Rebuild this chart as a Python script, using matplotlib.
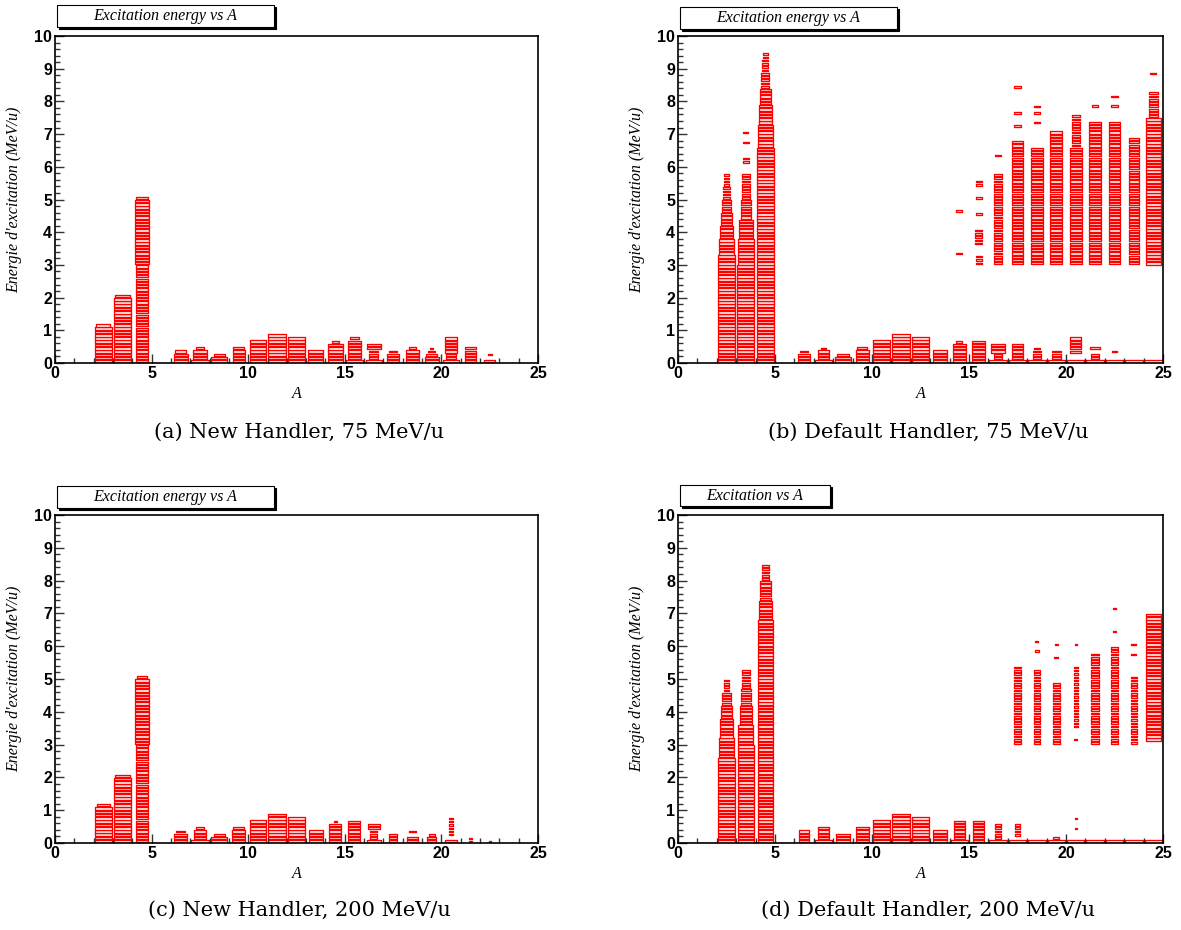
import matplotlib
matplotlib.use("Agg")
import matplotlib.pyplot as plt
from matplotlib.patches import Rectangle
from matplotlib.collections import PatchCollection
from matplotlib.ticker import MultipleLocator
from matplotlib.font_manager import FontProperties

# Boxes of the 2D histograms: (A bin, E low, E high, relative box size)
# every 0.1 MeV/u bin between E low and E high gets one box
a_boxes = [
    (2, 0.0, 1.1, 0.88), (2, 1.1, 1.2, 0.72),
    (3, 0.0, 2.0, 0.86), (3, 2.0, 2.1, 0.78),
    (4, 0.0, 3.0, 0.6), (4, 3.0, 5.0, 0.75), (4, 5.0, 5.1, 0.6),
    (6, 0.0, 0.3, 0.72), (6, 0.3, 0.4, 0.6),
    (7, 0.0, 0.1, 0.95), (7, 0.1, 0.4, 0.7), (7, 0.4, 0.5, 0.45),
    (8, 0.0, 0.2, 0.8), (8, 0.2, 0.3, 0.55),
    (9, 0.0, 0.4, 0.62), (9, 0.4, 0.5, 0.55),
    (10, 0.0, 0.7, 0.85),
    (11, 0.0, 0.9, 0.92),
    (12, 0.0, 0.8, 0.9),
    (13, 0.0, 0.4, 0.78),
    (14, 0.0, 0.6, 0.78), (14, 0.6, 0.7, 0.35),
    (15, 0.0, 0.1, 0.85), (15, 0.1, 0.7, 0.7), (15, 0.7, 0.8, 0.5),
    (16, 0.0, 0.1, 0.85), (16, 0.1, 0.4, 0.45), (16, 0.4, 0.6, 0.75),
    (17, 0.0, 0.3, 0.6), (17, 0.3, 0.4, 0.4),
    (18, 0.0, 0.4, 0.65), (18, 0.4, 0.5, 0.35),
    (19, 0.0, 0.2, 0.7), (19, 0.2, 0.3, 0.55), (19, 0.3, 0.4, 0.35), (19, 0.4, 0.5, 0.15),
    (20, 0.0, 0.1, 0.8), (20, 0.1, 0.3, 0.5), (20, 0.3, 0.8, 0.62),
    (21, 0.0, 0.5, 0.55),
    (22, 0.0, 0.1, 0.55), (22, 0.2, 0.3, 0.2),
]

b_boxes = [
    (2, 0.0, 2.8, 0.9), (2, 2.8, 3.3, 0.85), (2, 3.3, 3.8, 0.75), (2, 3.8, 4.2, 0.65),
    (2, 4.2, 4.6, 0.55), (2, 4.6, 5.0, 0.45), (2, 5.0, 5.4, 0.35), (2, 5.4, 5.8, 0.28),
    (3, 0.0, 3.0, 0.88), (3, 3.0, 3.8, 0.8), (3, 3.8, 4.4, 0.7), (3, 4.4, 5.0, 0.55),
    (3, 5.0, 5.4, 0.45), (3, 5.4, 5.8, 0.38),
    (3, 6.1, 6.3, 0.3), (3, 6.7, 6.8, 0.3), (3, 7.0, 7.1, 0.25),
    (4, 0.0, 6.6, 0.88), (4, 6.6, 7.3, 0.8), (4, 7.3, 7.9, 0.7), (4, 7.9, 8.4, 0.55),
    (4, 8.4, 8.9, 0.42), (4, 8.9, 9.3, 0.32), (4, 9.3, 9.5, 0.25),
    (6, 0.0, 0.3, 0.6), (6, 0.3, 0.4, 0.4),
    (7, 0.0, 0.1, 0.9), (7, 0.1, 0.4, 0.6), (7, 0.4, 0.5, 0.3),
    (8, 0.0, 0.2, 0.8), (8, 0.2, 0.3, 0.6),
    (9, 0.0, 0.4, 0.7), (9, 0.4, 0.5, 0.5),
    (10, 0.0, 0.7, 0.85),
    (11, 0.0, 0.9, 0.9),
    (12, 0.0, 0.8, 0.9),
    (13, 0.0, 0.4, 0.75),
    (14, 0.0, 0.6, 0.7), (14, 0.6, 0.7, 0.3),
    (15, 0.0, 0.7, 0.65),
    (16, 0.0, 0.1, 0.9), (16, 0.1, 0.3, 0.4), (16, 0.3, 0.6, 0.7),
    (17, 0.0, 0.1, 0.9), (17, 0.1, 0.6, 0.6),
    (18, 0.0, 0.1, 0.9), (18, 0.1, 0.4, 0.45), (18, 0.4, 0.5, 0.3),
    (19, 0.0, 0.1, 0.9), (19, 0.1, 0.4, 0.45),
    (20, 0.0, 0.1, 0.9), (20, 0.3, 0.8, 0.55),
    (21, 0.0, 0.1, 0.9), (21, 0.1, 0.3, 0.4), (21, 0.4, 0.5, 0.5),
    (22, 0.0, 0.1, 0.9), (22, 0.3, 0.4, 0.3),
    (23, 0.0, 0.1, 0.95),
    (24, 0.0, 0.1, 0.95),
    (14, 3.3, 3.4, 0.3), (14, 4.6, 4.7, 0.3),
    (15, 3.0, 3.3, 0.3), (15, 3.6, 4.1, 0.35), (15, 4.5, 4.6, 0.3),
    (15, 5.0, 5.1, 0.3), (15, 5.4, 5.6, 0.3),
    (16, 3.0, 5.8, 0.45), (16, 6.3, 6.4, 0.3),
    (17, 3.0, 6.8, 0.6), (17, 7.2, 7.3, 0.35), (17, 7.6, 7.7, 0.35), (17, 8.4, 8.5, 0.35),
    (18, 3.0, 6.6, 0.6), (18, 7.3, 7.4, 0.35), (18, 7.6, 7.7, 0.3), (18, 7.8, 7.9, 0.3),
    (19, 3.0, 7.1, 0.6),
    (20, 3.0, 6.6, 0.6), (20, 6.6, 7.6, 0.4),
    (21, 3.0, 7.4, 0.6), (21, 7.8, 7.9, 0.35),
    (22, 3.0, 7.4, 0.6), (22, 7.8, 7.9, 0.35), (22, 8.1, 8.2, 0.35),
    (23, 3.0, 6.9, 0.55),
    (24, 3.0, 7.5, 0.8), (24, 7.5, 8.3, 0.45), (24, 8.8, 8.9, 0.3),
]

c_boxes = [
    (2, 0.0, 1.1, 0.88), (2, 1.1, 1.2, 0.7),
    (3, 0.0, 2.0, 0.86), (3, 2.0, 2.1, 0.75),
    (4, 0.0, 3.0, 0.6), (4, 3.0, 5.0, 0.68), (4, 5.0, 5.1, 0.55),
    (6, 0.0, 0.3, 0.65), (6, 0.3, 0.4, 0.45),
    (7, 0.0, 0.1, 0.9), (7, 0.1, 0.4, 0.65), (7, 0.4, 0.5, 0.45),
    (8, 0.0, 0.2, 0.8), (8, 0.2, 0.3, 0.55),
    (9, 0.0, 0.4, 0.65), (9, 0.4, 0.5, 0.55),
    (10, 0.0, 0.7, 0.85),
    (11, 0.0, 0.9, 0.9),
    (12, 0.0, 0.8, 0.9),
    (13, 0.0, 0.4, 0.75),
    (14, 0.0, 0.6, 0.62), (14, 0.6, 0.7, 0.15),
    (15, 0.0, 0.7, 0.62),
    (16, 0.0, 0.1, 0.7), (16, 0.1, 0.4, 0.35), (16, 0.4, 0.6, 0.6),
    (17, 0.0, 0.3, 0.45),
    (18, 0.0, 0.2, 0.6), (18, 0.3, 0.4, 0.35),
    (19, 0.0, 0.2, 0.45), (19, 0.2, 0.3, 0.3),
    (20, 0.0, 0.1, 0.65), (20, 0.2, 0.8, 0.25),
    (21, 0.0, 0.2, 0.15),
    (22, 0.0, 0.1, 0.1),
]

d_boxes = [
    (2, 0.0, 2.6, 0.85), (2, 2.6, 3.2, 0.78), (2, 3.2, 3.8, 0.68), (2, 3.8, 4.2, 0.58),
    (2, 4.2, 4.6, 0.45), (2, 4.6, 5.0, 0.3),
    (3, 0.0, 3.0, 0.85), (3, 3.0, 3.6, 0.78), (3, 3.6, 4.2, 0.65), (3, 4.2, 4.7, 0.5),
    (3, 4.7, 5.3, 0.38),
    (4, 0.0, 6.8, 0.75), (4, 6.8, 7.4, 0.68), (4, 7.4, 8.0, 0.55), (4, 8.0, 8.5, 0.35),
    (6, 0.0, 0.4, 0.55),
    (7, 0.0, 0.1, 0.9), (7, 0.1, 0.5, 0.6),
    (8, 0.0, 0.3, 0.75),
    (9, 0.0, 0.5, 0.65),
    (10, 0.0, 0.7, 0.85),
    (11, 0.0, 0.9, 0.9),
    (12, 0.0, 0.8, 0.9),
    (13, 0.0, 0.4, 0.75),
    (14, 0.0, 0.1, 0.9), (14, 0.1, 0.7, 0.55),
    (15, 0.0, 0.7, 0.55),
    (16, 0.0, 0.1, 0.9), (16, 0.1, 0.6, 0.3),
    (17, 0.0, 0.1, 0.9), (17, 0.2, 0.6, 0.3),
    (18, 0.0, 0.1, 0.9),
    (19, 0.0, 0.1, 0.9), (19, 0.1, 0.2, 0.3),
    (20, 0.0, 0.1, 0.9), (20, 0.4, 0.5, 0.1), (20, 0.7, 0.8, 0.1),
    (21, 0.0, 0.1, 0.9),
    (22, 0.0, 0.1, 0.9),
    (23, 0.0, 0.1, 0.9),
    (24, 0.0, 0.1, 0.9),
    (17, 3.0, 5.4, 0.35),
    (18, 3.0, 5.3, 0.35), (18, 5.8, 5.9, 0.2), (18, 6.1, 6.2, 0.15),
    (19, 3.0, 4.9, 0.35), (19, 5.6, 5.7, 0.2), (19, 6.0, 6.1, 0.15),
    (20, 3.1, 3.2, 0.15), (20, 3.5, 5.4, 0.22), (20, 6.0, 6.1, 0.12),
    (21, 3.0, 5.8, 0.4),
    (22, 3.0, 6.0, 0.4), (22, 6.4, 6.5, 0.2), (22, 7.1, 7.2, 0.2),
    (23, 3.0, 5.1, 0.3), (23, 5.7, 5.8, 0.25), (23, 6.0, 6.1, 0.25),
    (24, 3.1, 7.0, 0.75),
]
# A bins of panel (d) where only a flat line sits on the axis
d_floor = [0, 1, 5]

titles = ["Excitation energy vs A", "Excitation energy vs A",
          "Excitation energy vs A", "Excitation vs A"]
captions = ["(a) New Handler, 75 MeV/u", "(b) Default Handler, 75 MeV/u",
            "(c) New Handler, 200 MeV/u", "(d) Default Handler, 200 MeV/u"]

W, H = 1181, 930
fig = plt.figure(figsize=(W / 100, H / 100), dpi=100)

# pixel layout of each pad: axes (left, right, top, bottom), title box (x0, x1, y0, y1)
pads = [
    dict(ax=(55, 538, 36, 363), tb=(57, 274, 5, 27), cap=(299, 432)),
    dict(ax=(678, 1163, 36, 363), tb=(680, 897, 7, 29), cap=(928, 432)),
    dict(ax=(55, 538, 515, 843), tb=(57, 274, 486, 508), cap=(299, 910)),
    dict(ax=(678, 1163, 515, 843), tb=(680, 830, 485, 506), cap=(928, 910)),
]
all_boxes = [a_boxes, b_boxes, c_boxes, d_boxes]

tick_fp = FontProperties(family="Liberation Sans", weight="bold", size=11.5)
lab_font = dict(family="Liberation Serif", style="italic", size=11.5)

for k, pad in enumerate(pads):
    l, r, t, b = pad["ax"]
    ax = fig.add_axes([l / W, 1 - b / H, (r - l) / W, (b - t) / H])
    ax.set_xlim(0, 25)
    ax.set_ylim(0, 10)

    rects = []
    for col, lo, hi, w in all_boxes[k]:
        n = int(round((hi - lo) / 0.1))
        h = 0.1 * 0.85 * w ** 0.5
        for i in range(n):
            yc = lo + 0.1 * i + 0.05
            rects.append(Rectangle((col + 0.5 - w / 2, yc - h / 2), w, h))
    ax.add_collection(PatchCollection(rects, facecolor="#fff2f2", edgecolor="red",
                                      linewidth=0.95))
    if k == 3:
        for col in d_floor:
            ax.plot([col, col + 1], [0.015, 0.015], color="red", lw=1.0)

    ax.xaxis.set_major_locator(MultipleLocator(5))
    ax.xaxis.set_minor_locator(MultipleLocator(1))
    ax.yaxis.set_major_locator(MultipleLocator(1))
    ax.yaxis.set_minor_locator(MultipleLocator(0.2))
    ax.tick_params(which="both", direction="in", color="#333333", width=1.0)
    ax.tick_params(which="major", length=6.5, pad=2)
    ax.tick_params(which="minor", length=3.5)
    for lab in ax.get_xticklabels() + ax.get_yticklabels():
        lab.set_fontproperties(tick_fp)
    for s in ax.spines.values():
        s.set_linewidth(1.2)

    ax.set_xlabel("A", fontdict=lab_font)
    ax.xaxis.set_label_coords(0.5, -0.07)
    ax.set_ylabel("Energie d'excitation (MeV/u)", fontdict=lab_font)
    ax.yaxis.set_label_coords(-0.068, 0.5)

    # title box with ROOT-like shadow
    x0, x1, y0, y1 = pad["tb"]
    fig.add_artist(Rectangle(((x0 + 2) / W, 1 - (y1 + 2) / H), (x1 - x0) / W, (y1 - y0) / H,
                             transform=fig.transFigure, facecolor="black",
                             edgecolor="black", lw=0.8))
    fig.add_artist(Rectangle((x0 / W, 1 - y1 / H), (x1 - x0) / W, (y1 - y0) / H,
                             transform=fig.transFigure, facecolor="white",
                             edgecolor="black", lw=0.8))
    fig.text((x0 + x1) / 2 / W, 1 - (y0 + y1) / 2 / H, titles[k],
             ha="center", va="center", family="Liberation Serif", style="italic", size=11.5)

    cx, cy = pad["cap"]
    fig.text(cx / W, 1 - cy / H, captions[k], ha="center", va="center",
             family="DejaVu Serif", size=15)

fig.savefig("out.png", dpi=100)
